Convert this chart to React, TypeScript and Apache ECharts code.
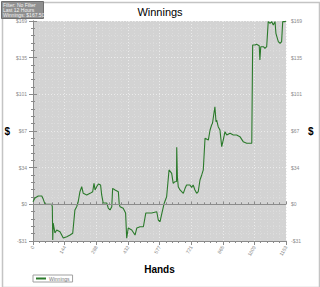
import React, { useEffect, useRef } from "react";
import * as echarts from "echarts";

const hands = [
  0, 9, 24, 40, 47, 55, 85, 88, 90, 92, 100, 108, 123, 138, 154, 169, 181, 191, 199, 206,
  214, 222, 229, 245, 260, 272, 278, 283, 290, 298, 308, 313, 320, 336, 343, 351, 359, 363,
  374, 389, 393, 397, 411, 422, 427, 434, 450, 465, 473, 488, 503, 514, 541, 564, 571, 579,
  587, 598, 609, 620, 632, 639, 647, 654, 655, 658, 662, 670, 685, 693, 700, 715, 723, 730,
  738, 746, 753, 761, 769, 776, 784, 799, 807, 814, 818, 829, 834, 837, 844, 852, 860, 867,
  875, 883, 898, 913, 928, 943, 958, 974, 989, 997, 1001, 1012, 1019, 1031, 1034, 1038, 1050,
  1057, 1065, 1072, 1080, 1088, 1095, 1103, 1107, 1118, 1126, 1133, 1138, 1148, 1153,
];
const winnings = [
  2.4, 5.8, 7.7, 7.7, 4.6, 0, 0, -2, -32.8, -17.2, -26.3, -23.6, -25.2, -30.9, -29.7, -28.2,
  -26.6, -5.2, -2.2, 2.4, 11.6, 16.2, 10.1, 8.6, 10.1, 11.6, 19.3, 13.2, 16.2, 18.7, 17.8, 8.6,
  1.2, 1.2, -3.4, -5.2, -2.2, 14.7, 13.2, 11.6, 0, -2.2, -3.6, -8.0, -31.2, -21.8, -23.6,
  -28.2, -21.8, -20.6, -20.6, -8.0, -8.0, -6.8, -14.4, -16.0, -8.6, 1.0, 7.0, 31.6, 28.5,
  19.3, 20.8, 21, 52.4, 25.4, 16.2, 13.2, 10.1, 14.7, 17.8, 17.8, 15.6, 17.8, 13.2, 10.1,
  11.6, 22.4, 27, 31.6, 60.7, 59.1, 68.3, 72.9, 74.5, 89.7, 75.9, 77.5, 71.4, 68.3, 53.0, 59.1,
  66.8, 63.7, 65.3, 63.7, 63.7, 62.2, 57.6, 56.1, 56.1, 56.1, 146.4, 146.4, 147.1, 145.8,
  132.7, 144.9, 144.9, 143.4, 144.9, 167.9, 166.4, 167.9, 164.8, 167.9, 157.2, 149.5, 148.0,
  149.5, 167.9, 167.9, 168.5,
];
const xTickLabels = ["0", "144", "288", "432", "577", "721", "865", "1009", "1153"];
const yTickLabels = ["-$31", "$0", "$34", "$67", "$101", "$135", "$169"];
const infoLines = ["Filter: No Filter", "Last 12 Hours", "Winnings: $167.50"];

const X_MAX = 1153;
const X_INT = X_MAX / 8;
const Y_INT = 33.7;
const Y_MIN = -Y_INT;
const Y_MAX = Y_INT * 5;

export default function App() {
  const ref = useRef<HTMLDivElement>(null);
  useEffect(() => {
    document.body.style.margin = "0";
    const chart = echarts.init(ref.current!, null, { renderer: "svg" });
    const font = "Liberation Sans, Arial, sans-serif";
    const axisGray = "#8a8a8a";
    const labelStyle = { color: "#8a8a8a", fontSize: 5, fontFamily: font };
    const yAxisCommon = {
      type: "value",
      min: Y_MIN,
      max: Y_MAX,
      interval: Y_INT,
      name: "$",
      nameLocation: "middle",
      nameRotate: 0,
      nameGap: 21,
      nameTextStyle: { color: "#000", fontSize: 10, fontWeight: "bold", fontFamily: font },
      axisLine: { show: true, lineStyle: { color: axisGray } },
      axisTick: { show: true, length: 4, lineStyle: { color: axisGray } },
      minorTick: { show: true, splitNumber: 5, length: 2, lineStyle: { color: axisGray } },
      axisLabel: {
        ...labelStyle,
        margin: 6,
        formatter: (v: number) => yTickLabels[Math.round((v - Y_MIN) / Y_INT)] ?? "",
      },
      splitLine: { show: true, lineStyle: { color: "#ebebeb", type: [1, 2], width: 1 } },
      minorSplitLine: { show: true, lineStyle: { color: "#dcdcdc", type: [1, 2], width: 1 } },
    };
    chart.setOption({
      animation: false,
      backgroundColor: "#ffffff",
      title: {
        text: "Winnings",
        left: "center",
        top: 1,
        textStyle: { fontSize: 11, fontWeight: "normal", color: "#000", fontFamily: font },
      },
      legend: {
        left: 33,
        top: 275,
        padding: [1, 3],
        itemWidth: 10,
        itemHeight: 2,
        itemGap: 4,
        borderColor: "#a0a0a0",
        borderWidth: 1,
        icon: "rect",
        textStyle: { fontSize: 5, color: "#777", fontFamily: font, padding: [0, 0, 0, -2] },
        data: ["Winnings"],
      },
      grid: { left: 33, right: 34, top: 21, bottom: 46, show: true, backgroundColor: "#d3d3d3", borderWidth: 0 },
      xAxis: [
        {
          type: "value",
          min: 0,
          max: X_MAX,
          interval: X_INT,
          name: "Hands",
          nameLocation: "middle",
          nameGap: 18,
          nameTextStyle: { color: "#000", fontSize: 10, fontWeight: "bold", fontFamily: font },
          axisLine: { show: true, onZero: false, lineStyle: { color: axisGray } },
          axisTick: { show: true, length: 4, lineStyle: { color: axisGray } },
          minorTick: { show: true, splitNumber: 5, length: 2, lineStyle: { color: axisGray } },
          axisLabel: {
            ...labelStyle,
            rotate: 60,
            margin: 5,
            formatter: (v: number) => xTickLabels[Math.round(v / X_INT)] ?? "",
          },
          splitLine: { show: true, lineStyle: { color: "#ebebeb", type: [1, 2], width: 1 } },
          minorSplitLine: { show: true, lineStyle: { color: "#dcdcdc", type: [1, 2], width: 1 } },
        },
        {
          type: "value",
          position: "top",
          min: 0,
          max: X_MAX,
          interval: X_INT,
          axisLine: { show: false },
          axisTick: { show: true, length: 3, lineStyle: { color: axisGray } },
          minorTick: { show: true, splitNumber: 5, length: 2, lineStyle: { color: axisGray } },
          axisLabel: { show: false },
          splitLine: { show: false },
        },
      ],
      yAxis: [
        { ...yAxisCommon, position: "left" },
        {
          ...yAxisCommon,
          position: "right",
          splitLine: { show: false },
          minorSplitLine: { show: false },
          axisLabel: { ...yAxisCommon.axisLabel, margin: 5 },
        },
      ],
      series: [
        {
          name: "Winnings",
          type: "line",
          data: hands.map((h, i) => [h, winnings[i]]),
          showSymbol: false,
          symbol: "none",
          lineStyle: { color: "#2b7a2b", width: 1.1 },
          itemStyle: { color: "#2b7a2b" },
          clip: true,
          markLine: {
            silent: true,
            symbol: ["none", "none"],
            label: { show: false },
            lineStyle: { color: "#8c8c8c", type: "solid", width: 1 },
            data: [{ yAxis: 0 }],
          },
          z: 3,
        },
      ],
      graphic: [
        {
          type: "rect",
          left: 0,
          top: 0,
          shape: { x: 0.5, y: 0.5, width: 317, height: 285 },
          style: { fill: "none", stroke: "#c4c4c4", lineWidth: 1.5 },
          silent: true,
        },
        {
          type: "rect",
          left: 1,
          top: 1,
          shape: { width: 42, height: 17 },
          style: { fill: "#8f8f8f", stroke: "#6f6f6f", lineWidth: 1 },
        },
        ...infoLines.map((t, i) => ({
          type: "text",
          left: 3,
          top: 2 + i * 5.3,
          style: { text: t, fill: "#f4f4f4", fontSize: 5, fontFamily: font },
        })),
      ],
    });
    return () => chart.dispose();
  }, []);
  return <div ref={ref} style={{ position: "fixed", left: 0, top: 0, width: 320, height: 287 }} />;
}
